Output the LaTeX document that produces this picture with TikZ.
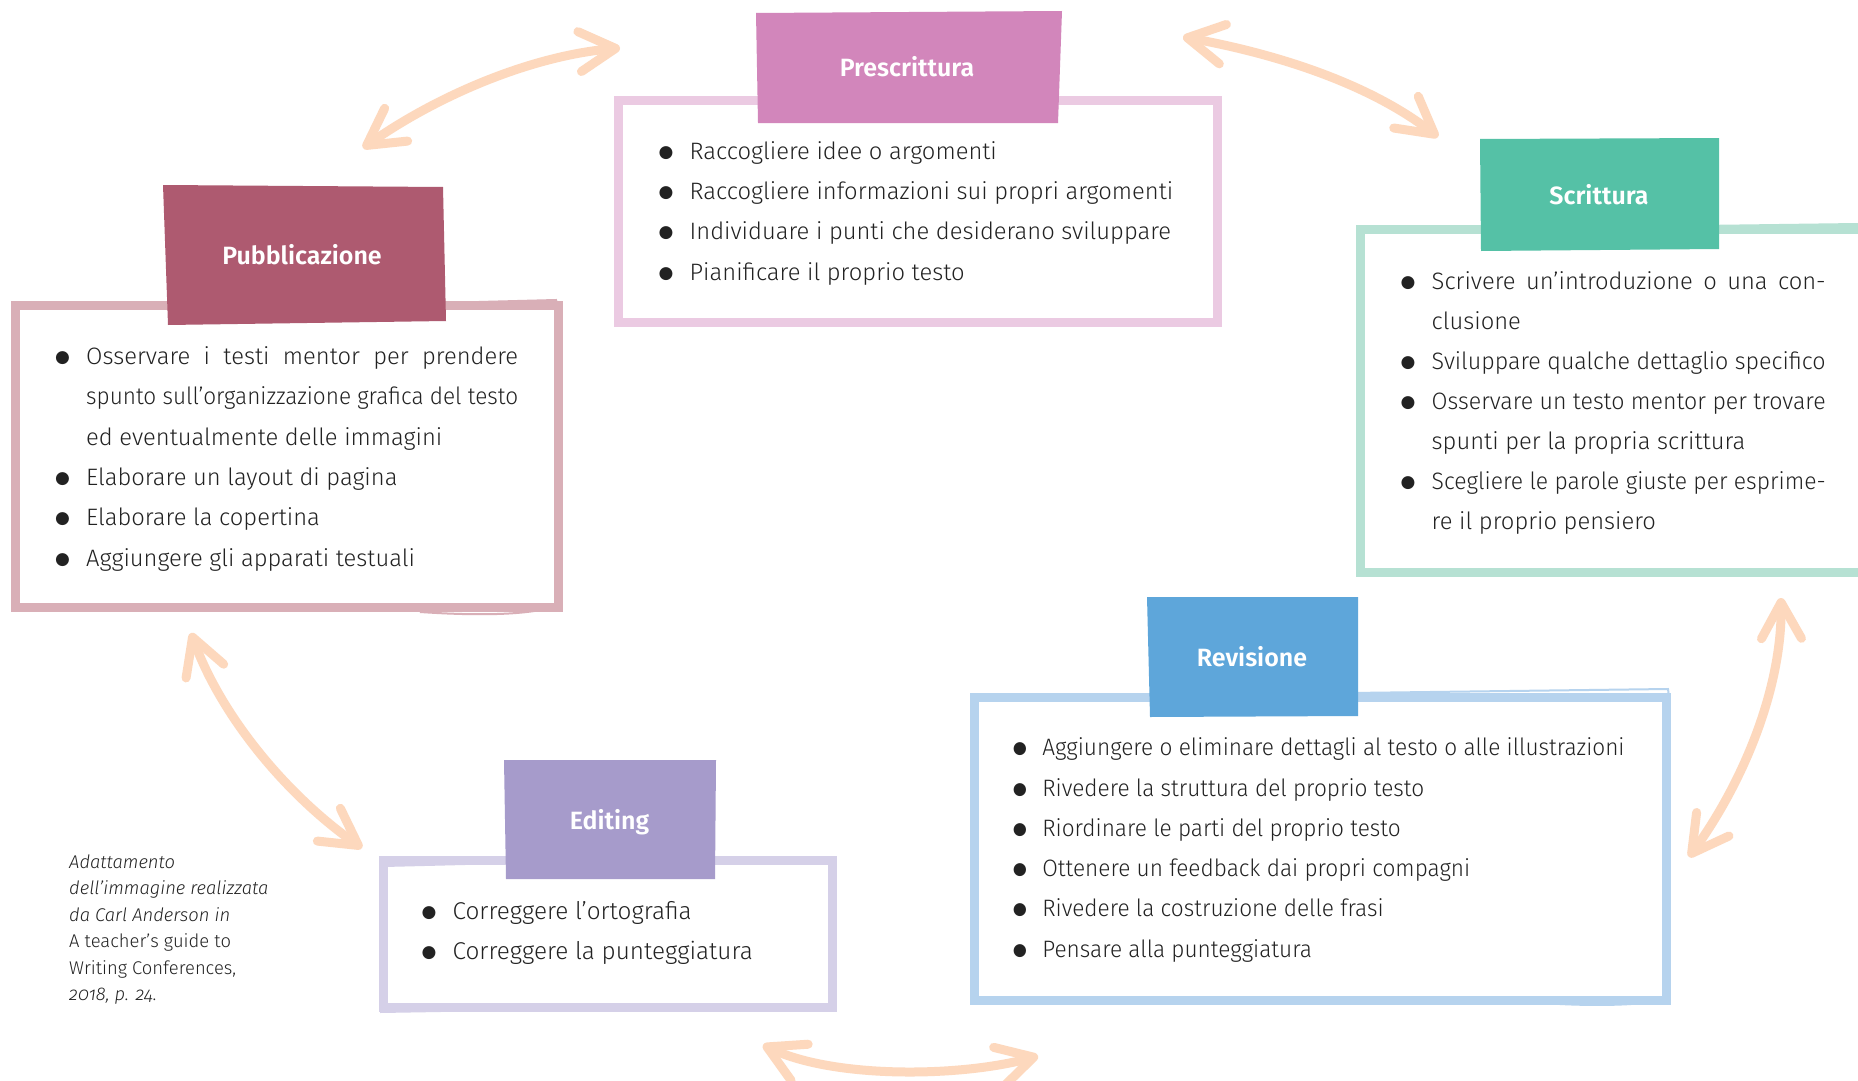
\documentclass[tikz,border=0pt]{standalone}
\usepackage{fontspec}
\usepackage{graphicx}
\setmainfont{Fira Sans Light}[BoldFont={Fira Sans SemiBold}, ItalicFont={Fira Sans Light Italic}]
\newfontfamily\dvfont{DejaVu Sans}
\usetikzlibrary{arrows.meta}
\definecolor{txt}{HTML}{222222}
\definecolor{peach}{HTML}{FDD8BD}
\definecolor{preH}{HTML}{D286BB}
\definecolor{preB}{HTML}{EBCAE2}
\definecolor{scrH}{HTML}{55C1A6}
\definecolor{scrB}{HTML}{B6E1D3}
\definecolor{pubH}{HTML}{AE5A70}
\definecolor{pubB}{HTML}{D9AFB7}
\definecolor{revH}{HTML}{5EA6DA}
\definecolor{revB}{HTML}{B6D3EE}
\definecolor{ediH}{HTML}{A69BCB}
\definecolor{ediB}{HTML}{D5D0E8}
\newcommand\bu{\rule{0pt}{20pt}\makebox[28.5pt][l]{\hspace*{-2.5pt}\raisebox{2pt}{\dvfont\fontsize{17}{17}\selectfont ●}}}
\newcommand\ind{\hspace*{28.5pt}}
\newlength\tmpw
\newcommand\jline[2]{\settowidth\tmpw{#2}\ifdim\tmpw>#1\resizebox{#1}{\height}{#2}\else\makebox[#1][s]{#2}\fi}
\tikzset{
  arr/.style={draw=peach, line width=9pt, line cap=round, line join=round,
    {Straight Barb[length=36pt,width=40pt,round]}-{Straight Barb[length=36pt,width=40pt,round]}},
  frame/.style={line width=9pt},
  sketch/.style={line width=2pt},
  body/.style={anchor=north west, inner sep=0pt, align=left, text=txt,
    font=\fontsize{23.75}{40.3}\selectfont},
  head/.style={anchor=base, inner sep=0pt, text=white,
    font=\fontsize{25}{25}\selectfont\bfseries},
}
\begin{document}
\begin{tikzpicture}[x=1pt, y=-1pt]
\useasboundingbox (0,0) rectangle (1858,1081);
\fill[white] (0,0) rectangle (1858,1081);

% ---- frames
\draw[frame, preB] (618,100) rectangle (1217,322);
\draw[frame, scrB] (1870,229) -- (1360,229) -- (1360,572) -- (1870,572);
\draw[sketch, scrB] (1700,226) -- (1858,224);
\draw[frame, pubB] (15,305.5) rectangle (558,607);
\draw[sketch, pubB] (440,303) -- (556,300) -- (559,310);
\draw[sketch, pubB] (420,612) .. controls (480,616) and (530,615) .. (556,606);
\draw[frame, revB] (974,697) rectangle (1666,1000);
\draw[sketch, revB] (1350,693) -- (1668,689) -- (1669,697);
\draw[sketch, revB] (1560,1004) .. controls (1600,1006) and (1640,1005) .. (1664,1000);
\draw[frame, ediB] (383,860) rectangle (832,1007);
\draw[sketch, ediB] (384,866) -- (505,863);
\draw[sketch, ediB] (380,1012) -- (500,1010);

% ---- header plates
\fill[preH] (756,13) -- (1062,11) -- (1058,123) -- (758,123) -- cycle;
\fill[scrH] (1480,139) -- (1719,138) -- (1719,249) -- (1481,251) -- cycle;
\fill[pubH] (163,185) -- (443,187) -- (446,321) -- (168,325) -- cycle;
\fill[revH] (1147,597) -- (1358,597) -- (1358,716) -- (1150,717) -- cycle;
\fill[ediH] (504,760) -- (716,760) -- (715,879) -- (506,879) -- cycle;

\node[head] (hpre) at (907,77) {Prescrittura};
\node[head] (hscr) at (1599,204) {Scrittura};
\node[head] (hpub) at (302,264.5) {Pubblicazione};
\node[head] (hrev) at (1252,666) {Revisione};
\node[head] (hedi) at (609.5,829) {Editing};

% ---- texts
\node[body] (tpre) at (661,139) {%
\bu Raccogliere idee o argomenti\\
\bu Raccogliere informazioni sui propri argomenti\\
\bu Individuare i punti che desiderano sviluppare\\
\bu Pianificare il proprio testo};

\node[body, font=\fontsize{23.75}{39.9}\selectfont] (tscr) at (1403,269.5) {%
\bu\jline{394pt}{Scrivere un’introduzione o una con-}\\
\ind clusione\\
\bu\jline{394pt}{Sviluppare qualche dettaglio specifico}\\
\bu\jline{394pt}{Osservare un testo mentor per trovare}\\
\ind spunti per la propria scrittura\\
\bu\jline{394pt}{Scegliere le parole giuste per esprime-}\\
\ind re il proprio pensiero};

\node[body] (tpub) at (57.5,344.3) {%
\bu\jline{432pt}{Osservare i testi mentor per prendere}\\
\ind\jline{432pt}{spunto sull’organizzazione grafica del testo}\\
\ind ed eventualmente delle immagini\\
\bu Elaborare un layout di pagina\\
\bu Elaborare la copertina\\
\bu Aggiungere gli apparati testuali};

\node[anchor=north west, inner sep=0pt, text=txt,
  font=\fontsize{23.75}{40.3}\selectfont] (trev) at (1015,727.3) {%
\scalebox{0.952}[1]{\begin{tabular}{@{}l@{}}
\bu Aggiungere o eliminare dettagli al testo o alle illustrazioni\\
\bu Rivedere la struttura del proprio testo\\
\bu Riordinare le parti del proprio testo\\
\bu Ottenere un feedback dai propri compagni\\
\bu Rivedere la costruzione delle frasi\\
\bu Pensare alla punteggiatura
\end{tabular}}};

\node[body, font=\fontsize{24.3}{40.3}\selectfont] (tedi) at (424,899) {%
\bu Correggere l’ortografia\\
\bu Correggere la punteggiatura};

\node[anchor=north west, inner sep=0pt, align=left, text=txt,
  font=\fontsize{18.4}{26.5}\selectfont] (cap) at (69,852) {%
\rule{0pt}{16pt}\textit{Adattamento}\\
\textit{dell’immagine realizzata}\\
\textit{da Carl Anderson in}\\
A teacher’s guide to\\
Writing Conferences,\\
\textit{\addfontfeatures{Numbers=OldStyle}2018, p. 24.}};

% ---- arrows
\coordinate (a1s) at (363,148);  \coordinate (a1e) at (620,48);
\coordinate (a2s) at (1183,37);  \coordinate (a2e) at (1438,137);
\coordinate (a3s) at (1781,598); \coordinate (a3e) at (1689,857);
\coordinate (a4s) at (763,1045); \coordinate (a4e) at (1038,1056);
\coordinate (a5s) at (191,633);  \coordinate (a5e) at (362,848);
\draw[arr] (a1s) .. controls (437,96) and (530,56) .. (a1e);
\draw[arr] (a2s) .. controls (1272,53) and (1367,82) .. (a2e);
\draw[arr] (a3s) .. controls (1782,690) and (1742,784) .. (a3e);
\draw[arr] (a4s) .. controls (835,1079) and (961,1077) .. (a4e);
\draw[arr] (a5s) .. controls (222,718) and (288,796) .. (a5e);
\end{tikzpicture}
\end{document}
